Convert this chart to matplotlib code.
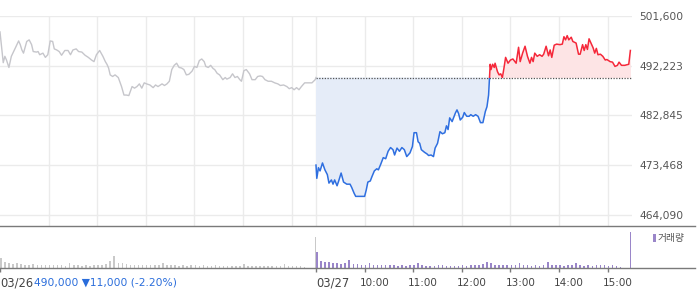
import matplotlib
matplotlib.use("Agg")
import matplotlib.pyplot as plt
import numpy as np
from matplotlib.patches import Rectangle
from matplotlib import transforms

# ---------------- data ----------------
base_price = 490000
y_ticks = [464090, 473468, 482845, 492223, 501600]

# minutes after 09:00 (03/26) and price
day1_min = [0, 4, 6, 8, 11, 14, 19, 23, 25, 27, 29, 33, 36, 39, 41, 45, 47, 49, 53, 56,
            59, 62, 65, 67, 70, 73, 76, 80, 84, 87, 90, 94, 97, 101, 105, 109, 113, 116, 119, 123,
            127, 130, 132, 134, 136, 139, 142, 146, 150, 153, 156, 159, 163, 166, 169, 172, 175, 178, 181, 185,
            189, 192, 195, 200, 203, 206, 209, 212, 215, 218, 221, 224, 227, 230, 233, 237, 240, 243, 246, 249,
            252, 254, 257, 260, 263, 265, 268, 271, 275, 278, 280, 284, 287, 290, 293, 296, 298, 301, 304, 308,
            311, 315, 318, 321, 324, 327, 331, 335, 339, 343, 346, 350, 354, 357, 360, 363, 366, 369, 372, 376,
            380, 385, 389, 390]
day1_price = [498600, 492800, 494000, 493300, 491900, 494000, 495600, 496900, 496200, 495200,
              494600, 496800, 497100, 496200, 494900, 494800, 494900, 494300, 494600, 493800,
              494300, 496900, 496800, 495400, 495200, 494900, 494200, 495100, 495100, 494300,
              495200, 495400, 494900, 494800, 494200, 493800, 493300, 493000, 494300, 495100,
              494000, 493000, 492500, 491800, 490500, 490200, 490500, 490000, 488300, 486700,
              486700, 486600, 488300, 488000, 488300, 488800, 488000, 489000, 488800, 488600,
              488100, 488600, 488300, 488800, 488500, 488800, 489300, 491500, 492300, 492700,
              491900, 491800, 491500, 490500, 490600, 491200, 492100, 491900, 493200, 493500,
              493000, 492100, 491900, 492300, 491700, 491500, 490800, 490500, 489600, 490000,
              489700, 490000, 490700, 490000, 490200, 489600, 489300, 491300, 491500, 490700,
              489600, 489600, 490200, 490300, 490200, 489600, 489300, 489300, 489000, 488800,
              488500, 488600, 488300, 487900, 488100, 487700, 488100, 487700, 488300, 489000,
              489000, 489000, 489600, 490000]

# minutes after 09:00 (03/27) and price
day2_min = [0, 1, 3, 5, 8, 11, 14, 16, 19, 21, 23, 26, 28, 31, 34, 38, 42, 44, 47, 49,
            55, 60, 62, 64, 67, 69, 72, 75, 77, 80, 83, 86, 89, 92, 95, 97, 100, 103, 106, 109,
            112, 116, 119, 121, 124, 126, 128, 130, 134, 137, 139, 142, 145, 147, 150, 153, 156, 159, 161, 163,
            165, 168, 172, 174, 176, 178, 181, 183, 186, 189, 191, 194, 197, 200, 203, 206, 209, 211, 213, 214,
            215, 216, 218, 220, 221, 224, 226, 228, 230, 232, 234, 237, 240, 243, 247, 250, 252, 255, 258, 261,
            264, 266, 268, 270, 273, 276, 279, 281, 284, 287, 289, 291, 294, 297, 301, 304, 306, 308, 310, 312,
            315, 317, 321, 324, 326, 329, 331, 333, 335, 337, 340, 342, 344, 346, 348, 351, 354, 357, 359, 363,
            366, 369, 372, 374, 377, 381, 386, 388]
day2_price = [473500, 471000, 473000, 472400, 473900, 472600, 471700, 470100, 470700, 469900,
              470700, 469600, 470500, 472000, 470300, 469900, 469900, 469300, 468200, 467600,
              467600, 467600, 468800, 470300, 470500, 471300, 472400, 472800, 472600, 473700,
              474900, 474700, 476100, 476800, 476400, 475400, 476700, 476100, 476800, 476400,
              475100, 475800, 477000, 479600, 479600, 477900, 477600, 476400, 475900, 475600,
              475300, 475400, 475100, 476700, 477600, 479800, 479400, 479600, 480900, 480200,
              482400, 481700, 483300, 483900, 483200, 482000, 482500, 483400, 482700, 482700,
              483000, 482700, 483000, 482700, 481500, 481500, 483600, 484500, 486700, 489600,
              492500, 491500, 492500, 491900, 492700, 491100, 490500, 490700, 490000, 491800,
              493800, 492700, 493300, 493500, 492700, 495700, 493000, 494600, 495900, 494000,
              492700, 493800, 493000, 494600, 494000, 494300, 494000, 494400, 495900, 494100,
              495200, 493800, 496100, 496300, 496200, 496300, 497700, 497100, 497900, 497100,
              497600, 496800, 496500, 494400, 494400, 496200, 495100, 496200, 495300, 497300,
              496300, 495600, 494600, 495500, 494300, 494400, 494000, 493300, 493400, 493000,
              492900, 492100, 492300, 492900, 492300, 492300, 492500, 495100]

# volume per 5-minute interval, plus closing auction
vol_day1 = [10000, 6000, 5000, 4000, 5000, 4000, 3000, 3000, 4000, 3000,
            3000, 3000, 3000, 3000, 3000, 3000, 2000, 5000, 3000, 3000,
            2000, 3000, 2000, 3000, 3000, 3000, 4000, 7000, 12000, 5000,
            5000, 4000, 3000, 3000, 3000, 3000, 3000, 3000, 3000, 3000,
            5000, 3000, 3000, 3000, 2000, 3000, 2000, 3000, 3000, 2000,
            3000, 2000, 2000, 3000, 2000, 2000, 2000, 2000, 2000, 2000,
            4000, 2000, 2000, 2000, 2000, 2000, 2000, 2000, 2000, 2000,
            4000, 2000, 2000, 2000, 2000, 1000, 0, 0]
vol_day1_close = 31000
vol_day2 = [16000, 7000, 6000, 6000, 5000, 5000, 4000, 5000, 8000, 4000,
            4000, 3000, 3000, 5000, 3000, 3000, 3000, 3000, 3000, 3000,
            2000, 3000, 2000, 3000, 3000, 5000, 3000, 2000, 2000, 2000,
            3000, 3000, 2000, 2000, 2000, 2000, 3000, 2000, 3000, 3000,
            3000, 4000, 6000, 5000, 3000, 3000, 3000, 3000, 3000, 3000,
            5000, 3000, 3000, 2000, 3000, 2000, 3000, 6000, 3000, 3000,
            3000, 2000, 3000, 3000, 5000, 3000, 2000, 3000, 2000, 3000,
            3000, 3000, 2000, 3000, 2000, 1000, 0, 0]
vol_day2_close = 36000

date_labels = ["03/26", "03/27"]
time_labels = ["10:00", "11:00", "12:00", "13:00", "14:00", "15:00"]
change_text = "490,000 \u25BC11,000 (-2.20%)"
legend_text = "거래량"

# ---------------- style ----------------
W, H = 700, 289
gray_line = "#c6c6cb"
blue_line = "#2f6fe0"
blue_fill = "#e5ecf8"
red_line = "#f5283a"
red_fill = "#fde4e5"
grid_c = "#ebebeb"
spine_c = "#7a7a7a"
vol_gray = "#c9c9c9"
vol_purple = "#9a86c9"
txt_c = "#555555"
blue_txt = "#2a6ddb"

plt.rcParams['font.family'] = ['DejaVu Sans', 'Noto Sans CJK KR']

fig = plt.figure(figsize=(W / 100, H / 100), dpi=100)

SESSION = 390
x1 = np.array(day1_min, dtype=float)
p1 = np.array(day1_price, dtype=float)
x2 = np.array(day2_min, dtype=float) + SESSION
p2 = np.array(day2_price, dtype=float)

# main price axes
ax = fig.add_axes([0, 1 - 225.5 / H, 632 / W, (225.5 - 16) / H])
ax.set_xlim(0, 2 * SESSION)
ymin = 462110
ax.set_ylim(ymin, y_ticks[-1])
for s in ax.spines.values():
    s.set_visible(False)

grid_x = [60, 120, 180, 240, 300, 360, 390, 450, 510, 570, 630, 690, 750]
ax.set_xticks(grid_x)
ax.tick_params(axis='x', length=0, labelbottom=False)
ax.set_yticks(y_ticks)
ax.set_yticklabels([f"{v:,}" for v in y_ticks])
ax.yaxis.tick_right()
ax.tick_params(axis='y', length=0, pad=5.2, labelsize=7.7, labelcolor=txt_c)
for lab in ax.get_yticklabels():
    lab.set_clip_on(False)
ax.grid(True, color=grid_c, lw=1, zorder=0)
ax.set_axisbelow(True)

# fills
ax.fill_between(x2, p2, base_price, where=p2 <= base_price, interpolate=True,
                color=blue_fill, lw=0, zorder=1)
ax.fill_between(x2, p2, base_price, where=p2 >= base_price, interpolate=True,
                color=red_fill, lw=0, zorder=1)

# base line
ax.plot([SESSION, 2 * SESSION], [base_price, base_price], color="#555555",
        lw=0.9, ls=(0, (1, 1.2)), zorder=2)

# lines
ax.plot(x1, p1, color=gray_line, lw=1, zorder=3)
lb, = ax.plot(x2, p2, color=blue_line, lw=1.1, zorder=3)
lr, = ax.plot(x2, p2, color=red_line, lw=1.1, zorder=3)
rb = Rectangle((SESSION - 10, ymin - 5000), SESSION + 20, base_price - ymin + 5000,
               transform=ax.transData)
rr = Rectangle((SESSION - 10, base_price), SESSION + 20, 30000, transform=ax.transData)
lb.set_clip_path(rb)
lr.set_clip_path(rr)

# volume axes
vx_right = 695
axv = fig.add_axes([0, 1 - 268.3 / H, vx_right / W, (268.3 - 225.5) / H])
axv.set_xlim(0, 2 * SESSION * vx_right / 632)
axv.set_ylim(0, 42800)
for k in ['left', 'right']:
    axv.spines[k].set_visible(False)
for k in ['top', 'bottom']:
    axv.spines[k].set_color(spine_c)
    axv.spines[k].set_linewidth(1)
axv.set_yticks([])

bx1 = np.arange(len(vol_day1)) * 5 + 1.0
bx2 = np.arange(len(vol_day2)) * 5 + SESSION + 1.0
axv.bar(bx1, vol_day1, width=1.9, color=vol_gray, lw=0)
axv.bar([SESSION - 0.4], [vol_day1_close], width=1.1, color=vol_gray, lw=0)
axv.bar(bx2, vol_day2, width=1.9, color=vol_purple, lw=0)
axv.bar([2 * SESSION - 1.8], [vol_day2_close], width=1.1, color=vol_purple, lw=0)

tick_x = [0, SESSION] + [SESSION + 60 * (i + 1) for i in range(len(time_labels))]
axv.set_xticks(tick_x)
axv.set_xticklabels([])
axv.tick_params(axis='x', direction='out', length=3.2, width=1, color=spine_c)

# x labels
trans = transforms.blended_transform_factory(axv.transData, fig.transFigure)
ylab = 1 - 282.5 / H
axv.text(0, ylab, date_labels[0], transform=trans, ha='left', va='center',
         fontsize=8.3, color="#444444", clip_on=False)
axv.text(SESSION, ylab, date_labels[1], transform=trans, ha='left', va='center',
         fontsize=8.3, color="#444444", clip_on=False)
toff = transforms.offset_copy(trans, fig=fig, x=-5, y=0, units='dots')
for i, lab in enumerate(time_labels):
    axv.text(SESSION + 60 * (i + 1), ylab, lab, transform=toff, ha='left', va='center',
             fontsize=7.5, color="#444444", clip_on=False)

fig.text(34 / W, ylab, change_text, ha='left', va='center', fontsize=7.7,
         color=blue_txt)

# legend
fig.add_artist(Rectangle((653 / W, 1 - 241.7 / H), 3.2 / W, 7.7 / H,
                         transform=fig.transFigure, color=vol_purple, lw=0))
fig.text(657.5 / W, 1 - 238 / H, legend_text, ha='left', va='center', fontsize=7,
         color=txt_c, family=['Noto Sans CJK KR', 'DejaVu Sans'])

fig.savefig("out.png", dpi=100)
